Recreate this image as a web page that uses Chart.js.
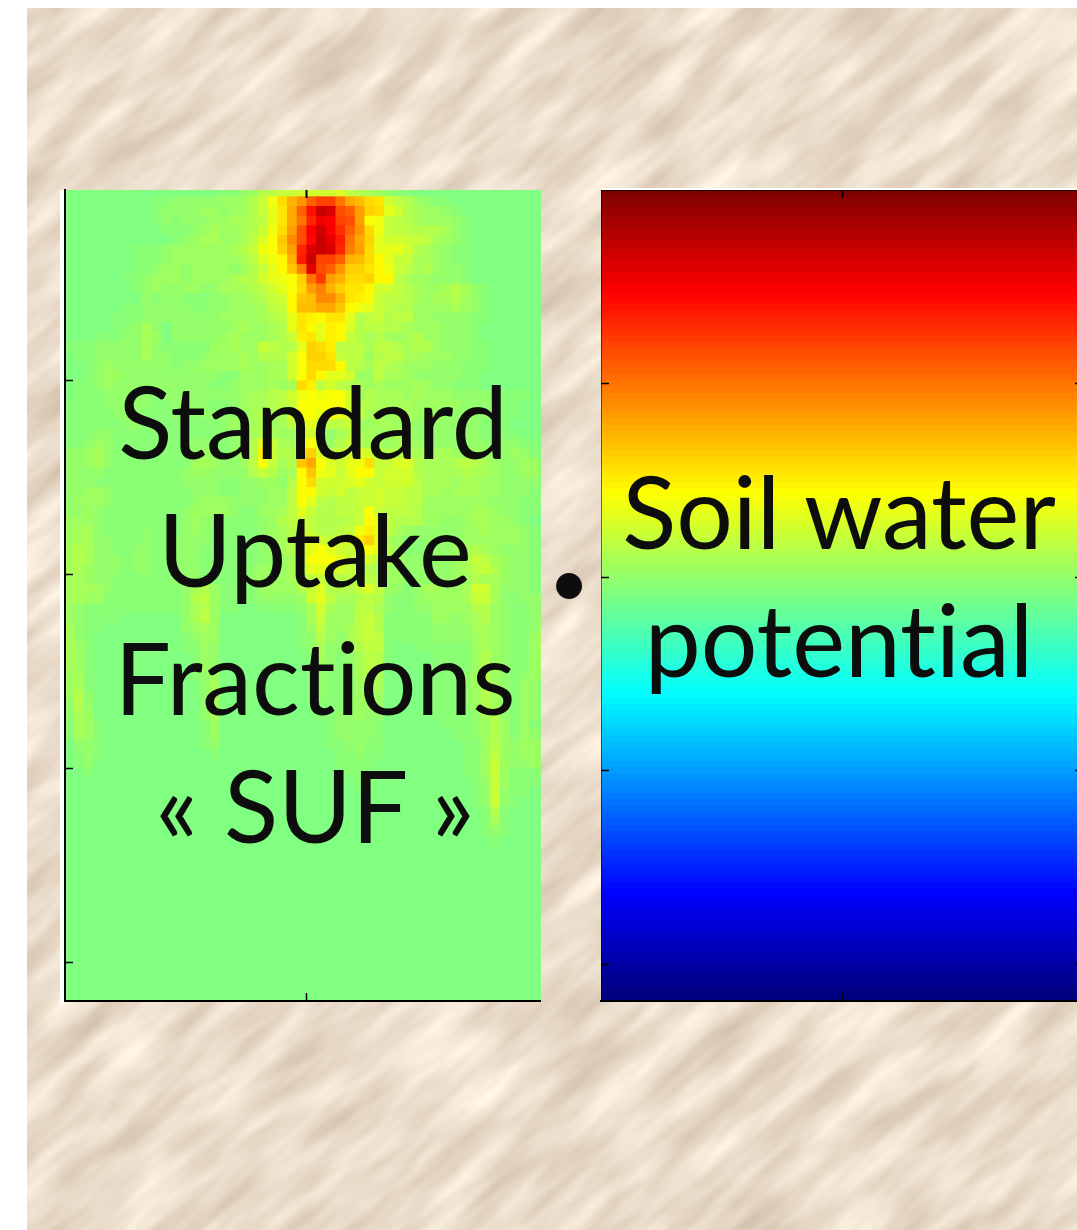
<!DOCTYPE html>
<html>
<head>
<meta charset="utf-8">
<script src="https://cdn.jsdelivr.net/npm/chart.js@4"></script>
<style>
html,body{margin:0;padding:0;background:#fff;width:1077px;height:1230px;overflow:hidden}
#stage{position:relative;width:1077px;height:1230px;overflow:hidden}
#bg{position:absolute;left:27px;top:8px}
.wrap{position:absolute}
.wrap canvas{display:block}
.txt{position:absolute;font-family:Lato,sans-serif;color:#0d0d0d;white-space:pre;text-align:center;line-height:128px;height:128px;font-variant-ligatures:none;font-feature-settings:"liga" 0,"clig" 0}
#strip{position:absolute;left:60px;top:190px;width:5px;height:813px;background:#fff}
#strip2{position:absolute;left:601px;top:188px;width:476px;height:2px;background:#fff}
</style>
</head>
<body>
<div id="stage">
<svg id="bg" width="1050" height="1222">
<defs>
<filter id="t" x="0" y="0" width="100%" height="100%" color-interpolation-filters="sRGB">
<feTurbulence type="fractalNoise" baseFrequency=".009 .036" numOctaves="3" seed="11"/>
<feColorMatrix type="matrix" values=".25 0 0 0 .795  .27 0 0 0 .73  .30 0 0 0 .645  0 0 0 0 1"/>
</filter>
</defs>
<g transform="rotate(-40 525 611)"><rect x="-500" y="-500" width="2100" height="2300" filter="url(#t)"/></g>
</svg>
<div id="strip"></div><div id="strip2"></div>
<div class="wrap" style="left:60px;top:180px;width:481px;height:825px"><canvas id="suf"></canvas></div>
<div class="wrap" style="left:597px;top:180px;width:496px;height:825px"><canvas id="soil"></canvas></div>
<div class="txt" id="l1" style="left:13px;width:600px;top:356px">Standard</div>
<div class="txt" id="l2" style="left:15px;width:600px;top:484px">Uptake</div>
<div class="txt" id="l3" style="left:15px;width:600px;top:612px">Fractions</div>
<div class="txt" id="l4" style="left:15px;width:600px;top:740px">« SUF »</div>
<div class="txt" id="r1" style="left:539px;width:600px;top:446px">Soil water</div>
<div class="txt" id="r2" style="left:539px;width:600px;top:574px">potential</div>
<div class="txt" id="dot" style="left:469px;width:200px;top:516px;font-size:70px">•</div>
</div>
<script>
// Soil column positions (cm from the plant axis) and standard uptake fraction per depth row, 1 cm per row (50 = zero on the colour scale)
const sufColumns = [-25,-24,-23,-22,-21,-20,-19,-18,-17,-16,-15,-14,-13,-12,-11,-10,-9,-8,-7,-6,-5,-4,-3,-2,-1,0,1,2,3,4,5,6,7,8,9,10,11,12,13,14,15,16,17,18,19,20,21,22,23,24];
const sufRows = [
[50,50,50,50,50,50,50,50,50,50,50,50,50,50,50,50,51,51,52,53,55,56,57,57,58,58,58,58,59,56,55,54,53,52,51,51,50,50,50,50,50,50,50,50,50,50,50,50,50,50],
[50,50,50,50,50,50,50,50,50,51,51,52,52,52,52,52,53,53,53,55,57,61,66,70,73,78,81,81,76,71,69,66,65,58,56,55,53,52,51,51,50,50,50,50,50,50,50,50,50,50],
[50,50,50,50,50,50,50,50,50,51,52,52,52,52,53,53,52,53,53,55,57,60,65,71,78,86,93,91,80,78,72,67,66,60,58,55,54,53,53,52,51,50,50,50,50,50,50,50,50,50],
[50,50,50,50,50,50,50,50,50,51,52,51,52,52,52,53,53,54,54,55,56,60,65,71,76,84,89,88,81,80,72,62,61,57,56,55,54,53,53,53,52,51,50,50,50,50,50,50,50,50],
[50,50,50,50,50,50,50,50,50,50,51,51,51,52,53,54,53,53,54,55,57,61,66,72,80,88,92,88,83,78,73,66,61,57,56,56,55,55,55,54,52,51,50,50,50,50,50,50,50,50],
[50,50,50,50,50,50,50,50,50,50,50,51,52,53,54,54,53,53,54,56,59,62,68,74,80,87,93,90,85,76,71,67,60,58,58,57,57,56,54,53,52,51,50,50,50,50,50,50,50,50],
[50,50,50,50,50,50,50,51,51,51,52,53,53,53,53,53,53,54,55,57,61,62,67,72,84,91,93,91,84,75,72,66,60,60,60,58,55,54,53,52,51,51,50,50,50,50,50,50,50,50],
[50,50,50,50,50,50,50,51,51,51,52,53,53,53,53,53,53,53,54,56,59,61,63,70,85,93,81,81,78,70,69,66,63,60,57,57,54,54,53,52,51,51,50,50,50,50,50,50,50,50],
[50,50,50,50,50,50,50,51,51,52,53,53,52,53,53,53,53,52,53,55,57,60,63,68,75,90,80,78,73,67,67,65,63,61,57,56,54,55,53,52,52,51,50,50,50,50,50,50,50,50],
[50,50,50,50,50,50,51,51,52,53,53,53,52,53,53,53,53,54,55,55,58,60,61,62,67,76,82,72,70,66,66,67,63,63,56,54,53,53,52,52,52,51,50,50,50,50,50,50,50,50],
[50,50,50,50,50,50,50,51,52,53,52,52,53,53,52,52,54,54,54,55,56,58,60,62,66,72,75,70,67,65,65,63,58,58,56,55,54,53,53,54,55,54,52,51,50,50,50,50,50,50],
[50,50,50,50,50,50,50,50,52,51,52,52,51,51,51,52,52,53,53,54,55,57,58,63,68,69,74,74,70,65,64,63,57,56,56,55,54,53,54,54,55,53,52,51,50,50,50,50,50,50],
[50,50,50,50,50,50,51,51,52,52,52,52,52,51,51,52,52,53,53,53,54,56,57,63,69,69,71,71,68,63,61,60,57,56,55,55,53,53,53,53,54,53,52,51,50,50,50,50,50,50],
[50,50,50,50,50,51,51,51,52,52,52,52,52,52,52,52,53,53,53,53,54,55,56,60,65,64,63,65,65,60,55,56,57,55,56,56,53,53,52,52,52,52,51,51,50,50,50,50,50,50],
[50,50,50,50,50,51,51,52,54,52,50,52,52,52,52,52,52,53,54,53,53,54,55,60,65,63,60,64,63,59,55,56,56,55,55,54,53,53,53,52,52,52,51,50,50,50,50,50,50,50],
[50,50,50,51,51,51,52,52,54,53,50,52,52,52,52,52,53,54,53,53,53,54,55,57,64,65,60,64,63,57,55,54,55,54,53,54,55,53,53,52,52,52,51,50,50,50,50,50,50,50],
[51,51,51,52,52,52,52,52,54,52,51,51,51,51,51,53,53,54,53,53,57,56,55,55,60,67,66,64,56,56,56,54,56,56,55,54,55,55,53,52,52,52,51,51,50,50,50,50,50,50],
[50,51,51,52,52,52,52,52,54,52,52,51,51,51,52,53,53,53,54,53,55,55,55,58,62,67,67,65,57,56,56,53,55,56,56,54,54,53,53,53,52,52,51,51,50,50,50,50,50,50],
[50,50,51,52,53,52,52,52,52,52,52,51,52,52,53,53,53,53,54,53,53,54,54,58,62,66,66,66,63,56,55,54,56,55,54,53,53,53,52,52,52,51,51,51,50,50,50,50,50,50],
[50,50,51,52,53,53,52,52,52,52,52,52,52,52,52,52,51,51,53,53,53,54,54,58,62,66,63,60,60,58,53,53,56,54,54,53,52,52,52,52,52,51,51,50,50,50,50,50,50,50],
[50,51,51,52,53,52,52,52,52,52,52,52,52,52,52,51,51,52,53,53,53,54,53,54,66,64,56,58,56,55,54,53,54,53,53,53,54,53,52,52,51,51,51,50,50,50,50,50,50,50],
[50,51,51,51,52,52,52,52,52,51,52,52,52,52,52,52,52,52,53,54,54,55,56,58,61,62,61,62,62,58,53,55,54,54,54,53,54,53,53,53,52,52,52,52,51,51,51,51,50,50],
[51,51,51,51,52,52,52,52,52,51,51,52,53,52,52,51,51,52,53,54,54,55,56,57,62,62,62,62,62,58,55,55,54,54,54,54,53,53,53,53,53,52,52,52,52,51,51,50,50,50],
[51,51,51,51,51,52,52,52,51,51,51,52,52,51,52,52,52,52,52,54,55,54,54,58,62,62,60,62,60,58,57,54,54,53,54,54,53,53,53,52,52,52,52,52,51,51,51,50,50,50],
[51,51,51,51,51,51,52,52,51,51,51,51,51,51,51,51,52,53,53,54,54,53,54,56,60,60,58,56,56,57,53,53,54,54,53,53,52,52,52,52,52,52,52,51,51,51,50,50,50,50],
[51,51,51,52,52,51,51,51,51,51,51,51,51,51,51,51,51,52,52,54,55,54,53,53,58,58,55,52,54,56,54,54,53,53,54,54,52,52,52,52,52,52,52,51,51,51,51,50,50,50],
[51,51,52,53,52,51,51,51,51,51,51,51,51,52,52,51,51,52,53,55,60,57,54,54,63,62,58,53,55,57,55,54,54,53,54,54,53,52,52,52,52,52,52,52,51,52,52,51,51,50],
[52,52,53,54,52,51,51,51,51,51,51,51,51,52,53,52,51,52,53,55,64,57,55,55,66,67,59,56,57,58,60,58,56,55,55,55,54,54,54,54,53,53,53,53,52,52,53,52,51,51],
[52,52,53,54,52,51,51,51,51,51,51,51,51,53,54,53,52,52,53,56,62,57,54,55,68,71,62,59,58,60,61,66,57,57,59,59,55,54,54,54,55,56,55,54,53,52,52,53,53,51],
[52,52,52,52,51,51,51,51,51,51,51,51,52,53,53,52,52,52,52,55,57,55,53,54,63,68,61,60,57,60,63,63,57,58,58,58,55,54,54,54,54,55,54,54,53,52,52,53,53,51],
[52,52,52,51,51,51,51,51,51,51,51,51,52,52,52,52,51,51,52,52,53,53,52,55,62,66,58,58,58,59,60,58,57,58,58,58,56,54,54,54,53,54,54,53,53,52,52,52,52,51],
[52,52,53,53,52,51,51,51,51,51,51,51,51,52,52,52,51,51,52,52,52,53,53,56,62,63,58,57,58,56,57,57,58,57,57,56,56,54,54,53,54,54,54,53,53,52,52,52,51,51],
[52,53,53,53,52,51,51,51,51,51,51,51,51,52,53,53,53,52,52,52,52,53,53,56,62,60,56,55,56,56,57,57,58,57,57,56,56,53,53,53,53,53,53,53,52,52,52,51,51,51],
[52,52,53,52,51,51,51,51,51,51,51,51,52,53,53,53,53,52,51,51,53,53,54,56,60,57,55,55,56,56,57,62,57,56,56,56,55,53,53,53,53,53,54,54,53,52,52,51,51,50],
[53,53,53,52,51,51,51,51,51,51,51,51,52,53,52,52,51,51,51,51,52,53,55,56,58,56,55,55,55,56,57,63,60,56,55,55,55,53,53,52,52,53,54,54,53,53,52,51,50,50],
[53,54,54,52,51,51,51,51,52,51,51,51,52,53,52,51,51,51,51,51,52,53,54,55,57,57,55,55,56,57,61,64,60,56,54,53,52,52,52,52,52,53,53,54,53,53,53,52,51,50],
[53,54,54,52,52,51,51,51,52,51,51,52,52,52,52,51,51,51,51,51,52,53,54,55,56,60,58,57,58,58,65,67,60,54,53,51,51,52,52,52,52,53,53,53,53,53,53,52,51,50],
[54,55,54,52,52,51,51,52,52,51,51,52,52,52,51,51,51,51,51,51,52,53,54,55,57,60,62,60,58,57,63,62,60,55,53,51,51,52,52,52,53,54,55,54,53,52,52,52,51,50],
[54,55,54,52,52,52,51,52,52,51,51,52,52,52,51,51,51,51,51,51,52,52,53,54,56,62,62,62,60,57,57,58,56,54,53,52,52,52,52,52,53,54,57,56,54,53,52,52,51,50],
[54,54,53,52,52,52,51,52,52,51,51,52,52,52,51,51,51,51,51,52,53,53,53,54,55,60,60,58,58,57,55,55,54,53,53,52,52,52,52,52,53,54,56,57,55,53,52,52,51,50],
[54,54,53,52,52,51,51,51,51,51,51,52,52,52,51,51,51,51,51,52,53,53,53,54,55,56,57,55,55,56,54,56,55,53,53,52,52,52,52,52,53,53,55,54,54,53,52,52,51,50],
[54,54,54,53,52,51,51,51,51,51,51,51,52,54,55,53,51,51,51,51,53,53,53,53,55,57,59,55,55,55,57,59,56,53,52,51,52,54,54,53,53,54,58,58,54,52,52,52,51,50],
[54,54,53,53,51,51,51,51,51,51,51,51,52,55,56,53,51,51,51,51,52,52,52,52,53,58,60,56,54,54,55,56,55,52,51,51,52,53,53,53,53,54,57,57,54,52,51,52,52,52],
[53,52,51,51,51,51,51,51,51,51,51,51,52,54,55,53,51,51,50,50,51,51,51,51,52,54,58,54,53,53,56,56,54,52,51,51,52,52,53,53,53,53,55,55,53,52,51,51,52,52],
[53,52,51,51,51,51,50,50,50,50,50,50,52,54,56,53,50,50,50,50,50,50,50,50,51,54,57,53,53,53,56,57,55,51,51,51,51,51,53,53,52,53,54,55,53,52,51,51,52,52],
[54,52,51,51,50,50,50,50,50,50,50,50,52,53,54,53,50,50,50,50,50,50,50,50,51,53,56,53,53,54,56,57,55,51,51,51,51,51,52,52,52,52,54,54,53,52,51,51,52,53],
[54,52,51,50,50,50,50,50,50,50,50,50,51,52,53,53,50,50,50,50,50,50,50,50,51,52,55,53,52,54,56,57,56,51,51,51,51,51,52,52,52,52,53,54,53,52,51,51,53,54],
[54,53,51,50,50,50,50,50,50,50,50,50,51,51,53,52,50,50,50,50,50,50,50,50,51,52,54,52,52,53,55,56,56,51,50,50,51,51,51,51,51,51,53,54,53,52,51,51,53,54],
[54,53,51,50,50,50,50,50,50,50,50,50,50,51,53,52,50,50,50,50,50,50,50,50,50,51,54,52,51,52,54,56,55,51,50,50,50,50,51,51,51,51,53,55,53,52,51,51,53,53],
[54,53,51,50,50,50,50,50,50,50,50,50,50,51,53,52,50,50,50,50,50,50,50,50,50,51,53,52,51,52,54,56,55,51,50,50,50,50,51,51,51,51,53,55,53,52,51,51,53,53],
[53,54,51,50,50,50,50,50,50,50,50,50,50,51,52,53,50,50,50,50,50,50,50,50,50,51,52,51,51,52,54,55,54,50,50,50,50,50,51,51,51,52,53,55,53,52,51,52,53,52],
[53,54,51,50,50,50,50,50,50,50,50,50,50,50,52,54,50,50,50,50,50,50,50,50,50,51,52,51,51,52,53,55,54,50,50,50,50,50,51,51,51,52,53,55,54,52,51,53,52,51],
[53,55,52,50,50,50,50,50,50,50,50,50,50,50,52,54,50,50,50,50,50,50,50,50,50,51,52,51,51,52,53,54,53,50,50,50,50,50,51,51,51,52,53,55,54,52,51,53,52,51],
[52,55,52,50,50,50,50,50,50,50,50,50,50,50,52,54,50,50,50,50,50,50,50,50,50,51,51,51,51,52,53,53,53,50,50,50,50,50,51,51,51,52,53,55,54,52,51,53,52,51],
[52,54,53,50,50,50,50,50,50,50,50,50,50,50,52,54,50,50,50,50,50,50,50,50,50,50,51,51,52,52,53,52,52,50,50,50,50,50,51,51,51,51,52,54,55,52,51,53,52,51],
[51,54,53,51,50,50,50,50,50,50,50,50,50,50,51,53,50,50,50,50,50,50,50,50,50,50,50,51,52,52,52,52,51,50,50,50,50,50,50,51,51,51,52,53,55,53,51,53,51,51],
[51,54,53,51,50,50,50,50,50,50,50,50,50,50,51,53,50,50,50,50,50,50,50,50,50,50,50,51,52,52,52,52,51,50,50,50,50,50,50,50,51,51,52,53,55,53,51,53,52,51],
[50,52,52,51,50,50,50,50,50,50,50,50,50,50,51,52,50,50,50,50,50,50,50,50,50,50,50,51,51,52,52,51,51,50,50,50,50,50,50,50,50,51,51,53,55,53,52,53,53,52],
[50,51,52,51,50,50,50,50,50,50,50,50,50,50,50,51,50,50,50,50,50,50,50,50,50,50,50,50,51,51,52,51,51,50,50,50,50,50,50,50,50,51,51,53,56,53,52,53,53,52],
[50,51,52,50,50,50,50,50,50,50,50,50,50,50,50,50,50,50,50,50,50,50,50,50,50,50,50,50,51,51,51,51,50,50,50,50,50,50,50,50,50,51,51,53,57,53,52,52,53,52],
[50,50,51,50,50,50,50,50,50,50,50,50,50,50,50,50,50,50,50,50,50,50,50,50,50,50,50,50,50,51,51,51,50,50,50,50,50,50,50,50,50,51,51,53,57,53,51,51,51,51],
[50,50,50,50,50,50,50,50,50,50,50,50,50,50,50,50,50,50,50,50,50,50,50,50,50,50,50,50,50,50,51,51,50,50,50,50,50,50,50,50,50,50,51,52,57,53,51,51,51,50],
[50,50,50,50,50,50,50,50,50,50,50,50,50,50,50,50,50,50,50,50,50,50,50,50,50,50,50,50,50,50,50,51,50,50,50,50,50,50,50,50,50,50,51,52,57,52,51,51,50,50],
[50,50,50,50,50,50,50,50,50,50,50,50,50,50,50,50,50,50,50,50,50,50,50,50,50,50,50,50,50,50,50,50,50,50,50,50,50,50,50,50,50,50,51,52,57,52,51,50,50,50],
[50,50,50,50,50,50,50,50,50,50,50,50,50,50,50,50,50,50,50,50,50,50,50,50,50,50,50,50,50,50,50,50,50,50,50,50,50,50,50,50,50,50,50,51,55,51,50,50,50,50],
[50,50,50,50,50,50,50,50,50,50,50,50,50,50,50,50,50,50,50,50,50,50,50,50,50,50,50,50,50,50,50,50,50,50,50,50,50,50,50,50,50,50,50,51,54,51,50,50,50,50],
[50,50,50,50,50,50,50,50,50,50,50,50,50,50,50,50,50,50,50,50,50,50,50,50,50,50,50,50,50,50,50,50,50,50,50,50,50,50,50,50,50,50,50,51,52,51,50,50,50,50],
[50,50,50,50,50,50,50,50,50,50,50,50,50,50,50,50,50,50,50,50,50,50,50,50,50,50,50,50,50,50,50,50,50,50,50,50,50,50,50,50,50,50,50,50,51,50,50,50,50,50],
[50,50,50,50,50,50,50,50,50,50,50,50,50,50,50,50,50,50,50,50,50,50,50,50,50,50,50,50,50,50,50,50,50,50,50,50,50,50,50,50,50,50,50,50,50,50,50,50,50,50],
[50,50,50,50,50,50,50,50,50,50,50,50,50,50,50,50,50,50,50,50,50,50,50,50,50,50,50,50,50,50,50,50,50,50,50,50,50,50,50,50,50,50,50,50,50,50,50,50,50,50],
[50,50,50,50,50,50,50,50,50,50,50,50,50,50,50,50,50,50,50,50,50,50,50,50,50,50,50,50,50,50,50,50,50,50,50,50,50,50,50,50,50,50,50,50,50,50,50,50,50,50],
[50,50,50,50,50,50,50,50,50,50,50,50,50,50,50,50,50,50,50,50,50,50,50,50,50,50,50,50,50,50,50,50,50,50,50,50,50,50,50,50,50,50,50,50,50,50,50,50,50,50],
[50,50,50,50,50,50,50,50,50,50,50,50,50,50,50,50,50,50,50,50,50,50,50,50,50,50,50,50,50,50,50,50,50,50,50,50,50,50,50,50,50,50,50,50,50,50,50,50,50,50],
[50,50,50,50,50,50,50,50,50,50,50,50,50,50,50,50,50,50,50,50,50,50,50,50,50,50,50,50,50,50,50,50,50,50,50,50,50,50,50,50,50,50,50,50,50,50,50,50,50,50],
[50,50,50,50,50,50,50,50,50,50,50,50,50,50,50,50,50,50,50,50,50,50,50,50,50,50,50,50,50,50,50,50,50,50,50,50,50,50,50,50,50,50,50,50,50,50,50,50,50,50],
[50,50,50,50,50,50,50,50,50,50,50,50,50,50,50,50,50,50,50,50,50,50,50,50,50,50,50,50,50,50,50,50,50,50,50,50,50,50,50,50,50,50,50,50,50,50,50,50,50,50],
[50,50,50,50,50,50,50,50,50,50,50,50,50,50,50,50,50,50,50,50,50,50,50,50,50,50,50,50,50,50,50,50,50,50,50,50,50,50,50,50,50,50,50,50,50,50,50,50,50,50],
[50,50,50,50,50,50,50,50,50,50,50,50,50,50,50,50,50,50,50,50,50,50,50,50,50,50,50,50,50,50,50,50,50,50,50,50,50,50,50,50,50,50,50,50,50,50,50,50,50,50],
[50,50,50,50,50,50,50,50,50,50,50,50,50,50,50,50,50,50,50,50,50,50,50,50,50,50,50,50,50,50,50,50,50,50,50,50,50,50,50,50,50,50,50,50,50,50,50,50,50,50],
[50,50,50,50,50,50,50,50,50,50,50,50,50,50,50,50,50,50,50,50,50,50,50,50,50,50,50,50,50,50,50,50,50,50,50,50,50,50,50,50,50,50,50,50,50,50,50,50,50,50],
[50,50,50,50,50,50,50,50,50,50,50,50,50,50,50,50,50,50,50,50,50,50,50,50,50,50,50,50,50,50,50,50,50,50,50,50,50,50,50,50,50,50,50,50,50,50,50,50,50,50],
[50,50,50,50,50,50,50,50,50,50,50,50,50,50,50,50,50,50,50,50,50,50,50,50,50,50,50,50,50,50,50,50,50,50,50,50,50,50,50,50,50,50,50,50,50,50,50,50,50,50],
[50,50,50,50,50,50,50,50,50,50,50,50,50,50,50,50,50,50,50,50,50,50,50,50,50,50,50,50,50,50,50,50,50,50,50,50,50,50,50,50,50,50,50,50,50,50,50,50,50,50],
[50,50,50,50,50,50,50,50,50,50,50,50,50,50,50,50,50,50,50,50,50,50,50,50,50,50,50,50,50,50,50,50,50,50,50,50,50,50,50,50,50,50,50,50,50,50,50,50,50,50]
];
// Soil water potential profile: colour level (0..63) and top depth (cm) of each band
const soilLevels = [63,62.5,62,61.5,61,60.5,60,59.5,59,58.5,58,57.5,57,56.5,56,55.5,55,54.5,54,53.5,53,52.5,52,51.5,51,50.5,50,49.5,49,48.5,48,47.5,47,46.5,46,45.5,45,44.5,44,43.5,43,42.5,42,41.5,41,40.5,40,39.5,39,38.5,38,37.5,37,36.5,36,35.5,35,34.5,34,33.5,33,32.5,32,31.5,31,30.5,30,29.5,29,28.5,28,27.5,27,26.5,26,25.5,25,24.5,24,23.5,23,22.5,22,21.5,21,20.5,20,19.5,19,18.5,18,17.5,17,16.5,16,15.5,15,14.5,14,13.5,13,12.5,12,11.5,11,10.5,10,9.5,9,8.5,8,7.5,7,6.5,6,5.5,5,4.5,4,3.5,3,2.5,2,1.5,1,0.5,0,0];
const soilDepths = [0,.66,1.31,1.97,2.63,3.28,3.94,4.59,5.25,5.91,6.56,7.22,7.88,8.53,9.19,9.84,10.5,11.16,11.81,12.47,13.13,13.78,14.44,15.09,15.75,16.41,17.06,17.72,18.38,19.03,19.69,20.34,21,21.66,22.31,22.97,23.63,24.28,24.94,25.59,26.25,26.91,27.56,28.22,28.88,29.53,30.19,30.84,31.5,32.16,32.81,33.47,34.13,34.78,35.44,36.09,36.75,37.41,38.06,38.72,39.38,40.03,40.69,41.34,42,42.66,43.31,43.97,44.63,45.28,45.94,46.59,47.25,47.91,48.56,49.22,49.88,50.53,51.19,51.84,52.5,53.16,53.81,54.47,55.13,55.78,56.44,57.09,57.75,58.41,59.06,59.72,60.38,61.03,61.69,62.34,63,63.66,64.31,64.97,65.63,66.28,66.94,67.59,68.25,68.91,69.56,70.22,70.88,71.53,72.19,72.84,73.5,74.16,74.81,75.47,76.13,76.78,77.44,78.09,78.75,79.41,80.06,80.72,81.38,82.03,82.69,83.34,84];
const xTickValues = [0];
const yTickValues = [-80,-60,-40,-20];

const TEXT_SIZE = 100;
document.querySelectorAll('.txt').forEach(e=>{ if(e.id!=='dot') e.style.fontSize=TEXT_SIZE+'px'; });

function clamp(v){return Math.max(0,Math.min(1,v));}
function jet(v){
  const r=clamp(1.5-Math.abs(4*v-3)), g=clamp(1.5-Math.abs(4*v-2)), b=clamp(1.5-Math.abs(4*v-1));
  return `rgb(${Math.round(r*255)},${Math.round(g*255)},${Math.round(b*255)})`;
}
function tickAxis(position, min, max, values, border, tickWidth){
  const horizontal = position==='top'||position==='bottom';
  return {
    type:'linear', position, min, max, offset:false,
    ticks:{display:false, autoSkip:false},
    grid:{display:true, offset:false, drawOnChartArea:false, drawTicks:true, tickLength:-8, tickWidth:tickWidth, tickColor:'#000', z:2},
    border:Object.assign({z:2, color:'#000'}, border),
    afterBuildTicks:s=>{ s.ticks = values.map(v=>({value:v})); },
    afterFit:s=>{ if(horizontal) s.height=0; else s.width=0; }
  };
}
function heatChart(id, data, colors, scales, padding, thickness){
  const canvas=document.getElementById(id);
  const box=canvas.parentElement;
  canvas.width=parseInt(box.style.width); canvas.height=parseInt(box.style.height);
  return new Chart(canvas,{
    type:'bar',
    data:{datasets:[{data, backgroundColor:colors, borderWidth:0, inflateAmount:0.45, grouped:false, barPercentage:1, categoryPercentage:1, barThickness:thickness, xAxisID:'x', yAxisID:'y'}]},
    options:{responsive:false, animation:false, events:[], devicePixelRatio:1,
      layout:{padding}, plugins:{legend:{display:false},tooltip:{enabled:false},title:{display:false}}, scales}
  });
}

const sufData=[], sufColors=[];
sufRows.forEach((row,r)=>row.forEach((v,c)=>{
  sufData.push({x:sufColumns[c]+0.5, y:[-r-1,-r]});
  sufColors.push(jet(v/100));
}));
heatChart('suf', sufData, sufColors, {
  x:tickAxis('bottom',-25,24.2,xTickValues,{display:true,width:2},1.5),
  xTop:tickAxis('top',-25,24.2,xTickValues,{display:false},2),
  y:tickAxis('left',-84,-0.3,yTickValues,{display:true,width:2},1.5)
},{left:5,right:0,top:10,bottom:4});

const soilData=[], soilColors=[];
soilLevels.forEach((lev,i)=>{
  soilData.push({x:xTickValues[0], y:[-soilDepths[i+1],-soilDepths[i]]});
  soilColors.push(jet(lev/63));
});
heatChart('soil', soilData, soilColors, {
  x:tickAxis('bottom',-25,24.8,xTickValues,{display:true,width:2},1.5),
  xTop:tickAxis('top',-25,24.8,xTickValues,{display:true,width:1,color:'rgba(0,0,0,.8)'},2),
  y:tickAxis('left',-83.8,0,yTickValues,{display:true,width:1,color:'rgba(0,0,0,.55)'},1.5),
  yRight:tickAxis('right',-83.8,0,yTickValues,{display:false},1.5)
},{left:4,right:10,top:10,bottom:4},600);
</script>
</body>
</html>
